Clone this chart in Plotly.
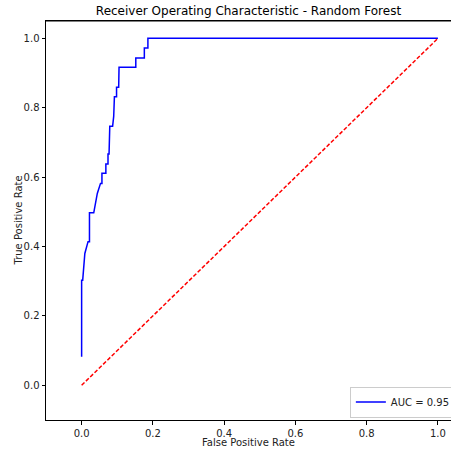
import plotly.graph_objects as go

# ROC curve values
fpr = [0.0, 0.0, 0.003, 0.008, 0.009, 0.018, 0.022, 0.022, 0.034, 0.044, 0.053, 0.057,
       0.057, 0.068, 0.068, 0.074, 0.074, 0.077, 0.079, 0.087, 0.090, 0.092, 0.098,
       0.098, 0.104, 0.105, 0.152, 0.152, 0.176, 0.176, 0.186, 0.186, 1.0]
tpr = [0.082, 0.303, 0.303, 0.361, 0.380, 0.414, 0.414, 0.497, 0.497, 0.553, 0.582, 0.582,
       0.611, 0.611, 0.638, 0.638, 0.667, 0.667, 0.747, 0.747, 0.775, 0.832, 0.832,
       0.859, 0.859, 0.917, 0.917, 0.943, 0.943, 0.972, 0.972, 1.0, 1.0]
diag = [0.0, 1.0]
auc_label = "AUC = 0.95"
tick_vals = [0.0, 0.2, 0.4, 0.6, 0.8, 1.0]
tick_text = ["0.0", "0.2", "0.4", "0.6", "0.8", "1.0"]

FONT = "DejaVu Sans"

fig = go.Figure()
fig.add_trace(go.Scatter(x=fpr, y=tpr, mode="lines", name=auc_label,
                         line=dict(color="#0000ff", width=1.5)))
fig.add_trace(go.Scatter(x=diag, y=diag, mode="lines", showlegend=False,
                         line=dict(color="#ff0000", width=1.5, dash="4px,2px")))

axis_common = dict(showgrid=False, zeroline=False, showline=True, linecolor="black",
                   linewidth=1, ticks="outside", ticklen=3.5, tickwidth=1, tickcolor="black",
                   tickvals=tick_vals, ticktext=tick_text, automargin=False,
                   tickfont=dict(family=FONT, size=10, color="#222222"))

fig.update_layout(
    width=451, height=449,
    margin=dict(l=46, r=0, t=21, b=29, autoexpand=False),
    paper_bgcolor="white", plot_bgcolor="white",
    title=dict(text="Receiver Operating Characteristic - Random Forest",
               font=dict(family=FONT, size=12, color="black"),
               x=0.5, xref="paper", xanchor="center",
               y=1 - 11 / 449, yref="container", yanchor="middle"),
    xaxis=dict(range=[-0.1, 1.0367], mirror=True, **axis_common),
    yaxis=dict(range=[-0.1, 1.05], **axis_common),
    showlegend=True,
    legend=dict(x=1.012, xanchor="right", y=0.006, yanchor="bottom",
                bgcolor="rgba(255,255,255,0.8)", bordercolor="#cccccc", borderwidth=1,
                font=dict(family=FONT, size=10, color="#222222"), itemwidth=30),
    shapes=[dict(type="line", xref="paper", yref="paper", x0=0, x1=1, y0=1, y1=1,
                 line=dict(color="black", width=1))],
    annotations=[
        dict(text="False Positive Rate", x=0.5, xref="paper", y=-(442.5 - 420) / 399,
             yref="paper", xanchor="center", yanchor="middle", showarrow=False,
             font=dict(family=FONT, size=10, color="#222222")),
        dict(text="True Positive Rate", x=-(46 - 18) / 405, xref="paper", y=0.5,
             yref="paper", xanchor="center", yanchor="middle", showarrow=False,
             textangle=-90, font=dict(family=FONT, size=10, color="#222222")),
    ],
)

fig.write_html("out.html", config={"displayModeBar": False},
               post_script="document.body.style.margin='0';document.body.style.padding='0';")
